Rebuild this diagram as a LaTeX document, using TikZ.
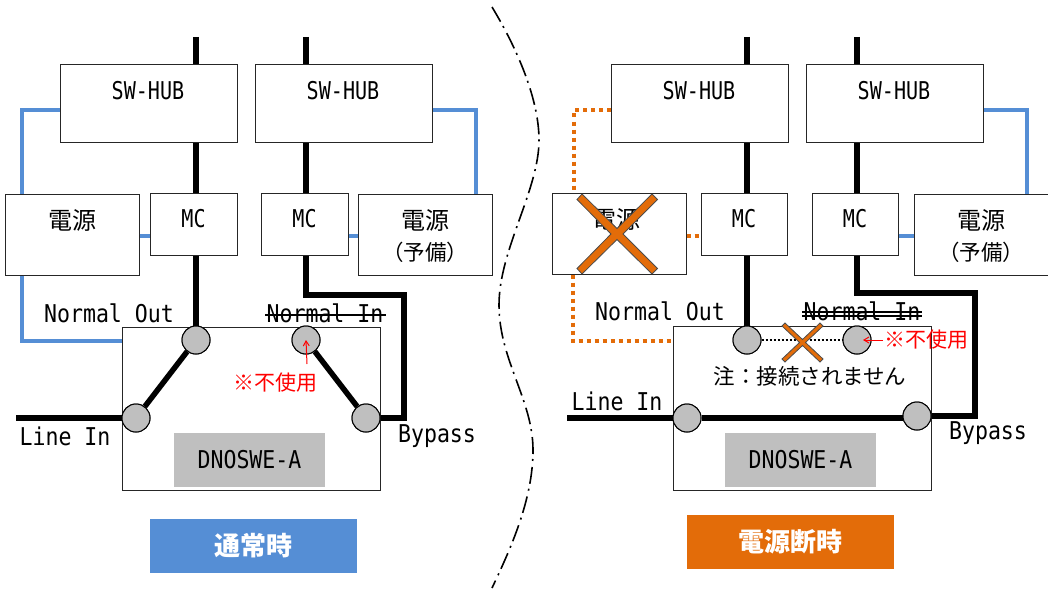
\documentclass[tikz,border=0pt]{standalone}
\usepackage{fontspec}
\setmainfont{DejaVu Sans Mono}[FakeStretch=0.88]
\newfontfamily\hubfont{DejaVu Sans Mono}[FakeStretch=0.82]
\newfontfamily\cjk{Noto Sans CJK JP}
\usetikzlibrary{arrows.meta}
\definecolor{bluel}{HTML}{558ED5}
\definecolor{orangel}{HTML}{E36C09}
\definecolor{greyl}{HTML}{BFBFBF}
\tikzset{
 box/.style={draw=black!85,line width=1pt,fill=white,inner sep=0pt},
 term/.style={circle,draw=black,line width=1pt,fill=greyl,inner sep=0pt,minimum size=28pt},
 blk/.style={line width=5.5pt,black,line join=miter},
 bluew/.style={line width=3.5pt,bluel},
 orgd/.style={line width=4pt,orangel,dash pattern=on 4pt off 4pt},
 cross/.style={draw=black!70,line width=0.8pt,fill=orangel},
 lat/.style={inner sep=0pt,font=\fontsize{24.5}{24.5}\selectfont},
 hubt/.style={inner sep=0pt,font=\hubfont\fontsize{24.5}{24.5}\selectfont},
 jp/.style={inner sep=0pt,font=\cjk\fontsize{21.5}{21.5}\selectfont},
 jpb/.style={inner sep=0pt,font=\cjk\fontsize{24}{24}\selectfont},
 redt/.style={inner sep=0pt,text=red,font=\cjk\fontsize{21}{21}\selectfont},
 redar/.style={draw=red,line width=1pt,-{Straight Barb[length=5pt,width=6pt]}},
 lab/.style={inner sep=0pt,minimum width=207pt,minimum height=54pt,text=white,font=\cjk\bfseries\fontsize{26}{26}\selectfont},
 greybox/.style={fill=greyl,inner sep=0pt,minimum width=151pt,minimum height=54pt,font=\fontsize{24.5}{24.5}\selectfont},
}
\begin{document}
\begin{tikzpicture}[x=1pt,y=-1pt]
\useasboundingbox (0,0) rectangle (1048,591);
% ---- left
\node[box,minimum width=177pt,minimum height=77pt] (hubA) at (148.5,103.5) {};
\node[box,minimum width=177pt,minimum height=77pt] (hubB) at (343.5,103.5) {};
\node[box,minimum width=134pt,minimum height=81pt] (psA) at (72,234.5) {};
\node[box,minimum width=87pt,minimum height=62pt] (mcA) at (193.5,224.5) {};
\node[box,minimum width=87pt,minimum height=62pt] (mcB) at (304.5,224.5) {};
\node[box,minimum width=134pt,minimum height=81pt] (psB) at (425,235) {};
\node[box,minimum width=258pt,minimum height=163pt] (swL) at (251,408.5) {};
\node[term] (cA) at (196,340) {};
\node[term] (cB) at (306,340) {};
\node[term] (cC) at (136,418) {};
\node[term] (cD) at (366,418) {};
\node[greybox] (nameL) at (249.5,460) {DNOSWE-A};
\node[lab,fill=bluel] (stateL) at (253.5,546) {通常時};
\node[hubt] (hubAt) at (148,91) {SW-HUB};
\node[hubt] (hubBt) at (343,91) {SW-HUB};
\node[jpb] (psAt) at (72,220) {電源};
\node[hubt] (mcAt) at (193.5,219) {MC};
\node[hubt] (mcBt) at (304.5,219) {MC};
\node[jpb] (psBt) at (425,220) {電源};
\node[jp] (psBs) at (425,252) {（予備）};
\node[lat] (noL) at (109,313) {Normal Out};
\node[lat] (niL) at (325,313) {Normal In};
\node[lat] (liL) at (65,436) {Line In};
\node[lat] (byL) at (437,436) {Bypass};
\node[redt] (fuL) at (275,383) {※不使用};
\coordinate (tA) at (196,37);
\coordinate (tB) at (306,37);
\coordinate (inL) at (16,418);
\coordinate (bkL1) at (306,295);
\coordinate (bkL2) at (404,295);
\coordinate (bkL3) at (404,418);
\coordinate (blA1) at (22,110);
\coordinate (blA2) at (22,341);
\coordinate (blB1) at (476,110);
\coordinate (stL1) at (265,315);
\coordinate (stL2) at (386,315);
\coordinate (raL) at (307,364);
\draw[blk] (tA) -- (hubA.north -| tA);
\draw[blk] (tB) -- (hubB.north -| tB);
\draw[blk] (hubA.south -| tA) -- (mcA.north -| tA);
\draw[blk] (hubB.south -| tB) -- (mcB.north -| tB);
\draw[blk] (mcA.south -| tA) -- (cA.north);
\draw[blk] (mcB.south -| tB) -- (bkL1) -- (bkL2) -- (bkL3) -- (cD.east);
\draw[blk] (inL) -- (cC.west);
\draw[blk] (cC) -- (cA);
\draw[blk] (cB) -- (cD);
\node[term] at (cA) {};
\node[term] at (cB) {};
\node[term] at (cC) {};
\node[term] at (cD) {};
\draw[bluew] (hubA.west |- blA1) -- (blA1) -- (psA.north -| blA1);
\draw[bluew] (psA.south -| blA1) -- (blA2) -- (swL.west |- blA2);
\draw[bluew] (psA.east |- 0,236) -- (mcA.west |- 0,236);
\draw[bluew] (mcB.east |- 0,236) -- (psB.west |- 0,236);
\draw[bluew] (hubB.east |- blB1) -- (blB1) -- (psB.north -| blB1);
\draw[line width=2.5pt] (stL1) -- (stL2);
\draw[redar] (raL) -- (cB.center);
% ---- right
\node[box,minimum width=177pt,minimum height=77pt] (hubC) at (699.5,103.5) {};
\node[box,minimum width=177pt,minimum height=77pt] (hubD) at (894.5,103.5) {};
\node[box,minimum width=134pt,minimum height=81pt] (psC) at (619,233.5) {};
\node[box,minimum width=86pt,minimum height=62pt] (mcC) at (744,224) {};
\node[box,minimum width=86pt,minimum height=62pt] (mcD) at (855,224) {};
\node[box,minimum width=134pt,minimum height=81pt] (psD) at (981,234.5) {};
\node[box,minimum width=258pt,minimum height=164pt] (swR) at (802,408) {};
\node[term] (cE) at (747,340) {};
\node[term] (cF) at (857,340) {};
\node[term] (cG) at (687,418) {};
\node[term] (cH) at (917,416) {};
\node[greybox] (nameR) at (800.5,460) {DNOSWE-A};
\node[lab,fill=orangel] (stateR) at (790.5,542) {電源断時};
\node[hubt] (hubCt) at (699,91) {SW-HUB};
\node[hubt] (hubDt) at (894,91) {SW-HUB};
\node[jpb] (psCt) at (616,219) {電源};
\node[hubt] (mcCt) at (744,219) {MC};
\node[hubt] (mcDt) at (855,219) {MC};
\node[jpb] (psDt) at (981,220) {電源};
\node[jp] (psDs) at (981,252) {（予備）};
\node[lat] (noR) at (660,311) {Normal Out};
\node[lat] (niR) at (862,311) {Normal In};
\node[lat] (liR) at (617,401) {Line In};
\node[lat] (byR) at (988,433) {Bypass};
\node[redt] (fuR) at (926,340) {※不使用};
\node[jp] (noteR) at (810,376) {注：接続されません};
\coordinate (tC) at (747,37);
\coordinate (tD) at (857,37);
\coordinate (inR) at (567,418);
\coordinate (bkR1) at (857,293);
\coordinate (bkR2) at (975,293);
\coordinate (bkR3) at (975,416);
\coordinate (orA1) at (574,110);
\coordinate (orA2) at (573,341);
\coordinate (blD1) at (1027,110);
\coordinate (stR1) at (802,312);
\coordinate (stR2) at (922,312);
\coordinate (stR3) at (802,316);
\coordinate (stR4) at (922,316);
\coordinate (raR) at (883,340);
\draw[blk] (tC) -- (hubC.north -| tC);
\draw[blk] (tD) -- (hubD.north -| tD);
\draw[blk] (hubC.south -| tC) -- (mcC.north -| tC);
\draw[blk] (hubD.south -| tD) -- (mcD.north -| tD);
\draw[blk] (mcC.south -| tC) -- (cE.north);
\draw[blk] (mcD.south -| tD) -- (bkR1) -- (bkR2) -- (bkR3) -- (cH.east);
\draw[blk] (inR) -- (cG.west);
\draw[blk] (cG.east) -- (cH.west |- cG);
\draw[line width=2pt,dash pattern=on 2pt off 2pt] (cE.east) -- (cF.west);
\node[term] at (cE) {};
\node[term] at (cF) {};
\node[term] at (cG) {};
\node[term] at (cH) {};
\draw[orgd] (hubC.west |- orA1) -- (orA1) -- (psC.north -| orA1);
\draw[orgd] (psC.south -| orA2) -- (orA2) -- (swR.west |- orA2);
\draw[orgd] (psC.east |- 0,236) -- (mcC.west |- 0,236);
\draw[bluew] (mcD.east |- 0,236) -- (psD.west |- 0,236);
\draw[bluew] (hubD.east |- blD1) -- (blD1) -- (psD.north -| blD1);
\draw[line width=1.3pt] (stR1) -- (stR2);
\draw[line width=1.3pt] (stR3) -- (stR4);
\draw[redar] (raR) -- (863,340);
% crosses
\path[cross] (577,199.5) -- (582,194) -- (617,228.5) -- (652,194) -- (657.5,199.5) -- (623,234)
  -- (657.5,268.5) -- (652,274) -- (617,239.5) -- (582,274) -- (577,268.5) -- (611,234) -- cycle;
\path[cross] (782,326) -- (785,323) -- (802.5,339.5) -- (820,323) -- (823,326) -- (805.5,342.5)
  -- (823,359) -- (820,362) -- (802.5,345.5) -- (785,362) -- (782,359) -- (799.5,342.5) -- cycle;
% divider
\coordinate (dv0) at (492,7);
\coordinate (dv1) at (539,140);
\coordinate (dv2) at (499,305);
\coordinate (dv3) at (533,450);
\coordinate (dv4) at (492,588);
\draw[line width=1.6pt,dash pattern=on 17pt off 5pt on 2pt off 6pt]
  (dv0) .. controls (518,50) and (539,100) .. (dv1)
  .. controls (539,190) and (499,250) .. (dv2)
  .. controls (499,360) and (533,400) .. (dv3)
  .. controls (533,500) and (510,550) .. (dv4);
\end{tikzpicture}
\end{document}
